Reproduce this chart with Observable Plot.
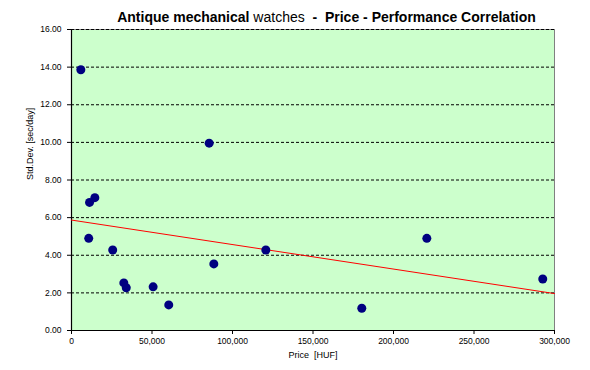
<!DOCTYPE html>
<html>
<head>
<meta charset="utf-8">
<script src="https://cdn.jsdelivr.net/npm/d3@7"></script>
<script src="https://cdn.jsdelivr.net/npm/@observablehq/plot@0.6"></script>
<style>
  body { margin: 0; background: #fff; font-family: "Liberation Sans", Arial, sans-serif; }
  #title { height: 14px; padding-top: 10px; line-height: 14px; font-size: 14px; font-weight: bold; text-align: center; box-sizing: content-box; padding-left: 63px; width: 527px; white-space: pre; color: #000; }
  #title .n { font-weight: normal; }
</style>
</head>
<body>
<div id="title">Antique mechanical <span class="n">watches</span>  -  Price - Performance Correlation</div>
<div id="chart"></div>
<script>
// Data
const price = [5800, 11200, 14500, 10700, 25600, 32500, 34000, 50700, 60400, 85500, 88400, 120700, 180300, 220700, 292700];
const stdDev = [13.86, 6.81, 7.06, 4.90, 4.28, 2.53, 2.27, 2.32, 1.36, 9.96, 3.54, 4.28, 1.18, 4.90, 2.74];
const xTicks = [0, 50000, 100000, 150000, 200000, 250000, 300000];
const yTicks = [0, 2, 4, 6, 8, 10, 12, 14, 16];
const gridLines = [2, 4, 6, 8, 10, 12, 14, 16];
const xDomain = [0, 300000];
const yDomain = [0, 16];

const points = price.map((p, i) => ({price: p, sd: stdDev[i]}));

// Linear trendline (least squares) computed from the data
const mx = d3.mean(price), my = d3.mean(stdDev);
const sxy = d3.sum(price, (p, i) => (p - mx) * (stdDev[i] - my));
const sxx = d3.sum(price, p => (p - mx) ** 2);
const slope = sxy / sxx, intercept = my - slope * mx;
const trend = xDomain.map(x => ({price: x, sd: intercept + slope * x}));

const chart = Plot.plot({
  width: 590,
  height: 346,
  marginTop: 5,
  marginLeft: 71,
  marginRight: 36,
  marginBottom: 40,
  style: {fontFamily: "Liberation Sans, Arial, sans-serif", fontSize: "8.5px", color: "#000", background: "transparent"},
  x: {domain: xDomain, ticks: xTicks, tickFormat: d3.format(","), label: null},
  y: {domain: yDomain, ticks: yTicks, tickFormat: d3.format(".2f"), label: null},
  marks: [
    Plot.frame({fill: "#ccffcc", stroke: "#808080"}),
    Plot.ruleY(gridLines, {stroke: "#000", strokeDasharray: "3,2", strokeWidth: 1}),
    Plot.ruleX([0], {stroke: "#000", strokeWidth: 1.2}),
    Plot.ruleY([0], {stroke: "#000", strokeWidth: 1.2}),
    Plot.line(trend, {x: "price", y: "sd", stroke: "#ff0000", strokeWidth: 1}),
    Plot.dot(points, {x: "price", y: "sd", r: 4.5, fill: "#000080", stroke: "none"}),
    Plot.axisX({ticks: xTicks, tickFormat: d3.format(","), tickSize: 4, tickPadding: 3, label: null}),
    Plot.axisY({ticks: yTicks, tickFormat: d3.format(".2f"), tickSize: 4, tickPadding: 6, label: null}),
    Plot.text(["Price\u00a0\u00a0[HUF]"], {frameAnchor: "bottom", dy: 27, fontSize: 9}),
    Plot.text(["Std.Dev. [sec/day]"], {frameAnchor: "left", dx: -41, rotate: -90, fontSize: 9})
  ]
});
document.getElementById("chart").appendChild(chart);
</script>
</body>
</html>
